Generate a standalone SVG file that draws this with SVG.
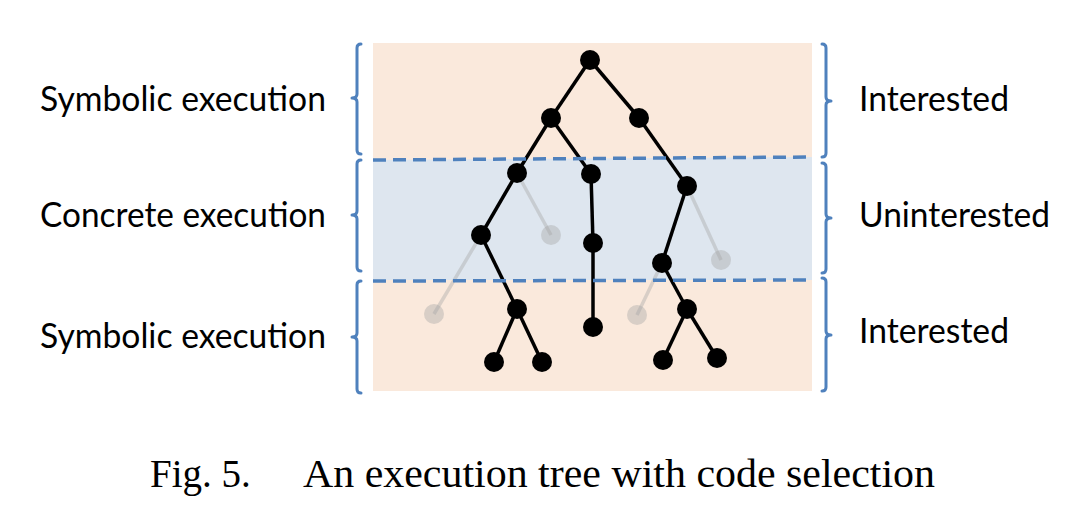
<svg xmlns="http://www.w3.org/2000/svg" width="1080" height="506" viewBox="0 0 1080 506">
<style>
.lbl{font-family:Lato,"Open Sans","Liberation Sans",sans-serif;font-size:35px;fill:#000}
.cap{font-family:"Liberation Serif","Times New Roman",serif;font-size:39px;fill:#000}
.br{fill:none;stroke:#4f81bd;stroke-width:3;stroke-linejoin:round;stroke-linecap:round}
.dash{fill:none;stroke:#4f81bd;stroke-width:3.5;stroke-dasharray:13 7}
.e{stroke:#000;stroke-width:3.5;fill:none}
.eg{stroke:#a6a6a6;stroke-opacity:0.4;stroke-width:3.5;fill:none}
.n{fill:#000}
.ng{fill:#a6a6a6;fill-opacity:0.4}
</style>
<rect width="1080" height="506" fill="#fff"/>
<g id="bands">
<rect x="373" y="43" width="439" height="118" fill="#fae9dc"/>
<polygon points="373,160 812,157 812,280 373,281" fill="#dee6ef"/>
<rect x="373" y="280" width="439" height="111" fill="#fae9dc"/>
</g>
<g id="brackets">
<path class="br" d="M361,44 Q357,44 357,48 V94 Q357,98 352,98 Q357,98 357,102 V150 Q357,154 361,154"/>
<path class="br" d="M361,160 Q357,160 357,164 V211 Q357,215 352,215 Q357,215 357,219 V267 Q357,271 361,271"/>
<path class="br" d="M361,281 Q357,281 357,285 V333 Q357,337 352,337 Q357,337 357,341 V389 Q357,393 361,393"/>
<path class="br" d="M822,44 Q826,44 826,48 V97 Q826,101 831,101 Q826,101 826,105 V153 Q826,157 822,157"/>
<path class="br" d="M822,163 Q826,163 826,167 V214 Q826,218 831,218 Q826,218 826,222 V269 Q826,273 822,273"/>
<path class="br" d="M822,278 Q826,278 826,282 V331 Q826,335 831,335 Q826,335 826,339 V387 Q826,391 822,391"/>
</g>
<g id="connectors">
<line class="eg" x1="517" y1="173" x2="551" y2="235"/>
<line class="eg" x1="687" y1="186" x2="721" y2="260"/>
<line class="eg" x1="481" y1="235" x2="434" y2="314"/>
<line class="eg" x1="662" y1="263" x2="637" y2="315"/>
<line class="e" x1="590" y1="60" x2="551" y2="118"/>
<line class="e" x1="590" y1="60" x2="639" y2="118"/>
<line class="e" x1="551" y1="118" x2="517" y2="173"/>
<line class="e" x1="551" y1="118" x2="591" y2="174"/>
<line class="e" x1="639" y1="118" x2="687" y2="186"/>
<line class="e" x1="517" y1="173" x2="481" y2="235"/>
<line class="e" x1="591" y1="174" x2="593" y2="243"/>
<line class="e" x1="687" y1="186" x2="662" y2="263"/>
<line class="e" x1="481" y1="235" x2="517" y2="309"/>
<line class="e" x1="593" y1="243" x2="593" y2="327"/>
<line class="e" x1="662" y1="263" x2="687" y2="309"/>
<line class="e" x1="517" y1="309" x2="494" y2="362"/>
<line class="e" x1="517" y1="309" x2="542" y2="362"/>
<line class="e" x1="687" y1="309" x2="663" y2="360"/>
<line class="e" x1="687" y1="309" x2="717" y2="358"/>
</g>
<g id="dividers">
<line class="dash" x1="373" y1="160" x2="812" y2="157"/>
<line class="dash" x1="373" y1="281" x2="812" y2="280"/>
</g>
<g id="nodes">
<circle id="n1" class="n" cx="590" cy="60" r="10"/>
<circle id="n2" class="n" cx="551" cy="118" r="10"/>
<circle id="n3" class="n" cx="639" cy="118" r="10"/>
<circle id="n4" class="n" cx="517" cy="173" r="10"/>
<circle id="n5" class="n" cx="591" cy="174" r="10"/>
<circle id="n6" class="n" cx="687" cy="186" r="10"/>
<circle id="n7" class="n" cx="481" cy="235" r="10"/>
<circle id="g1" class="ng" cx="551" cy="235" r="10"/>
<circle id="n8" class="n" cx="593" cy="243" r="10"/>
<circle id="n9" class="n" cx="662" cy="263" r="10"/>
<circle id="g2" class="ng" cx="721" cy="260" r="10"/>
<circle id="g3" class="ng" cx="434" cy="314" r="10"/>
<circle id="n10" class="n" cx="517" cy="309" r="10"/>
<circle id="n11" class="n" cx="593" cy="327" r="10"/>
<circle id="g4" class="ng" cx="637" cy="315" r="10"/>
<circle id="n12" class="n" cx="687" cy="309" r="10"/>
<circle id="n13" class="n" cx="494" cy="362" r="10"/>
<circle id="n14" class="n" cx="542" cy="362" r="10"/>
<circle id="n15" class="n" cx="663" cy="360" r="10"/>
<circle id="n16" class="n" cx="717" cy="358" r="10"/>
</g>
<g id="labels">
<text class="lbl" x="40" y="111" textLength="286" lengthAdjust="spacingAndGlyphs">Symbolic execution</text>
<text class="lbl" x="40" y="227" textLength="286" lengthAdjust="spacingAndGlyphs">Concrete execution</text>
<text class="lbl" x="40" y="348" textLength="286" lengthAdjust="spacingAndGlyphs">Symbolic execution</text>
<text class="lbl" x="859" y="111" textLength="150" lengthAdjust="spacingAndGlyphs">Interested</text>
<text class="lbl" x="859" y="227" textLength="191" lengthAdjust="spacingAndGlyphs">Uninterested</text>
<text class="lbl" x="859" y="343" textLength="150" lengthAdjust="spacingAndGlyphs">Interested</text>
</g>
<g id="caption">
<text class="cap" x="150" y="487">Fig. 5.</text>
<text class="cap" x="303" y="487" textLength="632" lengthAdjust="spacingAndGlyphs">An execution tree with code selection</text>
</g>
</svg>
